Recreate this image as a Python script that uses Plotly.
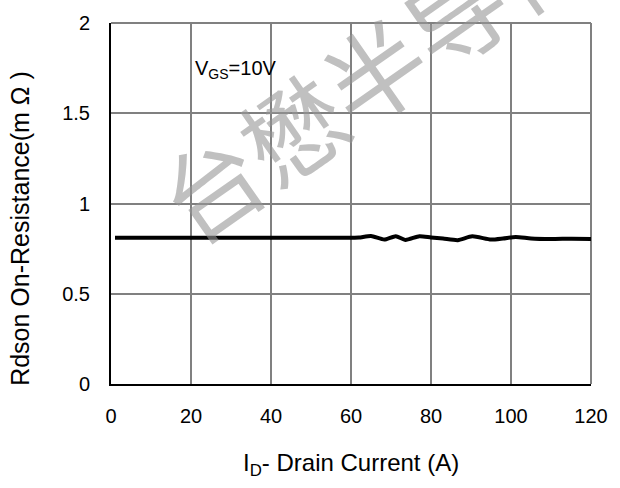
import plotly.graph_objects as go

current_a = [1, 10, 20, 30, 40, 50, 60, 62, 65, 68.3, 71.2, 73.6, 77.1, 80, 83, 86.7,
             90.3, 95, 98, 101.2, 105, 110, 115, 120]
rdson_mohm = [0.81, 0.81, 0.81, 0.81, 0.81, 0.81, 0.81, 0.811, 0.82, 0.80, 0.819, 0.798,
              0.819, 0.812, 0.806, 0.797, 0.818, 0.800, 0.806, 0.815, 0.806, 0.803, 0.805, 0.804]
x_ticks = [0, 20, 40, 60, 80, 100, 120]
y_ticks = [0, 0.5, 1, 1.5, 2]
y_tick_labels = ["0", "0.5", "1", "1.5", "2"]

FONT = "Liberation Sans, Arial, sans-serif"

fig = go.Figure()
fig.add_trace(go.Scatter(x=current_a, y=rdson_mohm, mode="lines",
                         line=dict(color="black", width=4, shape="spline", smoothing=0.6),
                         showlegend=False, hoverinfo="skip"))

fig.update_layout(
    width=620, height=488,
    margin=dict(l=111, r=19, t=14, b=104),
    paper_bgcolor="white", plot_bgcolor="white",
    font=dict(family=FONT, size=20, color="black"),
    xaxis=dict(range=[0, 120], tickvals=x_ticks, showgrid=True, gridcolor="#808080",
               gridwidth=1.5, zeroline=False, showline=True, linecolor="black", linewidth=2,
               ticks="outside", ticklen=13, tickcolor="rgba(0,0,0,0)",
               tickfont=dict(size=20)),
    yaxis=dict(range=[0, 2], tickvals=y_ticks, ticktext=y_tick_labels, showgrid=True,
               gridcolor="#808080", gridwidth=1.5, zeroline=False, showline=True,
               linecolor="black", linewidth=2, ticks="outside", ticklen=15,
               tickcolor="rgba(0,0,0,0)", tickfont=dict(size=20)),
    shapes=[
        dict(type="line", xref="paper", yref="paper", x0=0, x1=1, y0=1, y1=1,
             line=dict(color="#808080", width=2), layer="below"),
        dict(type="line", xref="paper", yref="paper", x0=1, x1=1, y0=0, y1=1,
             line=dict(color="#808080", width=2), layer="below"),
    ],
    annotations=[
        dict(text="I<sub>D</sub>- Drain Current (A)", x=0.5, y=-0.224, xref="paper",
             yref="paper", xanchor="center", yanchor="middle", showarrow=False,
             font=dict(size=24, family=FONT, color="black")),
        dict(text="Rdson On-Resistance(m Ω )", x=-0.19, y=0.432, xref="paper",
             yref="paper", xanchor="center", yanchor="middle", showarrow=False,
             textangle=-90, font=dict(size=25, family=FONT, color="black")),
        dict(text="V<sub>GS</sub>=10V", x=20.5, y=1.74, xref="x", yref="y",
             xanchor="left", yanchor="middle", showarrow=False,
             font=dict(size=20, family=FONT, color="black")),
        dict(text="台懋半导体", x=0.545, y=0.872, xref="paper", yref="paper",
             xanchor="center", yanchor="middle", showarrow=False, textangle=-35,
             font=dict(size=100, family="Noto Sans CJK SC", color="rgba(150,150,150,0.6)")),
    ],
)

fig.write_html("out.html", config={"displayModeBar": False},
               post_script="document.body.style.margin='0';document.body.style.overflow='hidden';")
